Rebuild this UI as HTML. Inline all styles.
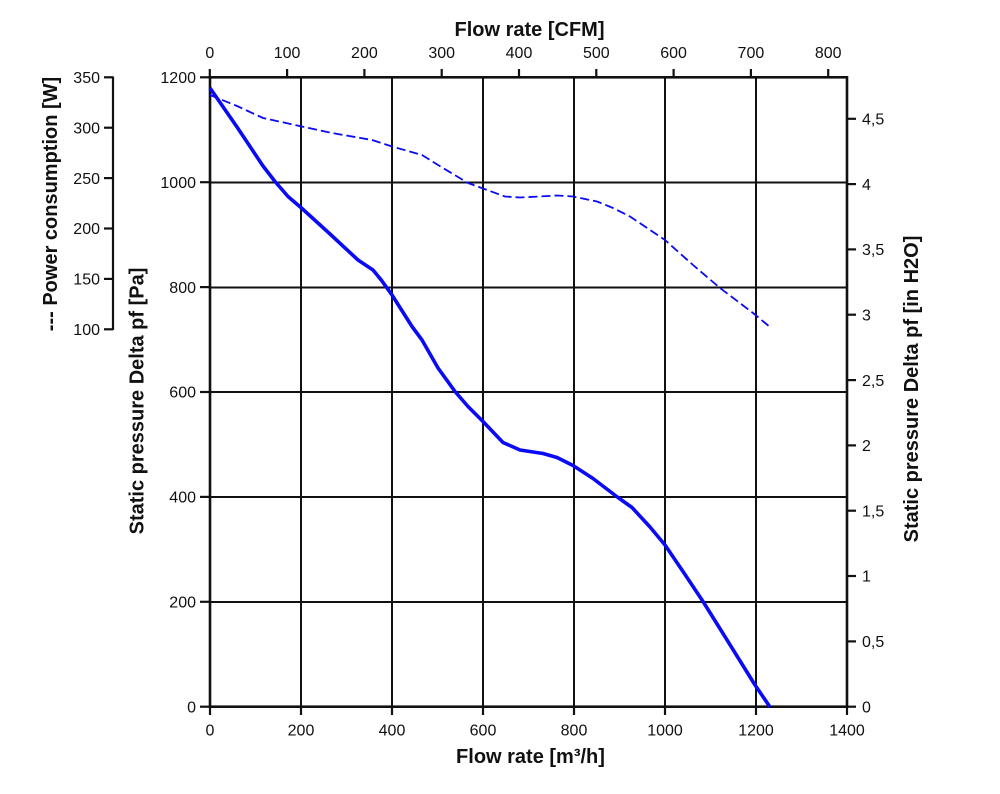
<!DOCTYPE html>
<html>
<head>
<meta charset="utf-8">
<style>
  html,body{margin:0;padding:0;background:#fff;}
  svg{display:block;}
  text{font-family:"Liberation Sans",Arial,sans-serif;fill:#111;}
  .t{font-size:16px;}
  .b{font-size:20px;font-weight:bold;}
</style>
</head>
<body>
<svg width="1000" height="794" viewBox="0 0 1000 794" xmlns="http://www.w3.org/2000/svg">
  <rect x="0" y="0" width="1000" height="794" fill="#fff"/>

  <!-- grid -->
  <g stroke="#111" stroke-width="2">
    <line x1="301" y1="77" x2="301" y2="707"/>
    <line x1="392" y1="77" x2="392" y2="707"/>
    <line x1="483" y1="77" x2="483" y2="707"/>
    <line x1="574" y1="77" x2="574" y2="707"/>
    <line x1="665" y1="77" x2="665" y2="707"/>
    <line x1="756" y1="77" x2="756" y2="707"/>
    <line x1="210" y1="602" x2="847" y2="602"/>
    <line x1="210" y1="497" x2="847" y2="497"/>
    <line x1="210" y1="392" x2="847" y2="392"/>
    <line x1="210" y1="287.5" x2="847" y2="287.5"/>
    <line x1="210" y1="182.5" x2="847" y2="182.5"/>
  </g>

  <!-- frame -->
  <rect x="210" y="77.3" width="637" height="629.4" fill="none" stroke="#111" stroke-width="2.6"/>

  <!-- left ticks -->
  <g stroke="#111" stroke-width="2.2">
    <line x1="200" y1="706.7" x2="210" y2="706.7"/>
    <line x1="200" y1="601.8" x2="210" y2="601.8"/>
    <line x1="200" y1="496.9" x2="210" y2="496.9"/>
    <line x1="200" y1="392" x2="210" y2="392"/>
    <line x1="200" y1="287.1" x2="210" y2="287.1"/>
    <line x1="200" y1="182.2" x2="210" y2="182.2"/>
    <line x1="200" y1="77.3" x2="210" y2="77.3"/>
    <!-- bottom ticks -->
    <line x1="210" y1="707" x2="210" y2="715"/>
    <line x1="301" y1="707" x2="301" y2="715"/>
    <line x1="392" y1="707" x2="392" y2="715"/>
    <line x1="483" y1="707" x2="483" y2="715"/>
    <line x1="574" y1="707" x2="574" y2="715"/>
    <line x1="665" y1="707" x2="665" y2="715"/>
    <line x1="756" y1="707" x2="756" y2="715"/>
    <line x1="847" y1="707" x2="847" y2="715"/>
    <!-- top CFM ticks -->
    <line x1="209.8" y1="69" x2="209.8" y2="77"/>
    <line x1="287.1" y1="69" x2="287.1" y2="77"/>
    <line x1="364.4" y1="69" x2="364.4" y2="77"/>
    <line x1="441.7" y1="69" x2="441.7" y2="77"/>
    <line x1="519" y1="69" x2="519" y2="77"/>
    <line x1="596.3" y1="69" x2="596.3" y2="77"/>
    <line x1="673.6" y1="69" x2="673.6" y2="77"/>
    <line x1="750.9" y1="69" x2="750.9" y2="77"/>
    <line x1="828.2" y1="69" x2="828.2" y2="77"/>
    <!-- right inH2O ticks -->
    <line x1="847" y1="706.7" x2="856" y2="706.7"/>
    <line x1="847" y1="641.4" x2="856" y2="641.4"/>
    <line x1="847" y1="576" x2="856" y2="576"/>
    <line x1="847" y1="510.7" x2="856" y2="510.7"/>
    <line x1="847" y1="445.4" x2="856" y2="445.4"/>
    <line x1="847" y1="380.1" x2="856" y2="380.1"/>
    <line x1="847" y1="314.7" x2="856" y2="314.7"/>
    <line x1="847" y1="249.4" x2="856" y2="249.4"/>
    <line x1="847" y1="184.1" x2="856" y2="184.1"/>
    <line x1="847" y1="118.8" x2="856" y2="118.8"/>
    <!-- power axis -->
    <line x1="113" y1="76.5" x2="113" y2="330"/>
    <line x1="104" y1="77.3" x2="113" y2="77.3"/>
    <line x1="104" y1="127.7" x2="113" y2="127.7"/>
    <line x1="104" y1="178.1" x2="113" y2="178.1"/>
    <line x1="104" y1="228.5" x2="113" y2="228.5"/>
    <line x1="104" y1="278.9" x2="113" y2="278.9"/>
    <line x1="104" y1="329.3" x2="113" y2="329.3"/>
  </g>

  <!-- left tick labels -->
  <g class="t" text-anchor="end">
    <text x="196" y="712.4">0</text>
    <text x="196" y="607.5">200</text>
    <text x="196" y="502.6">400</text>
    <text x="196" y="397.7">600</text>
    <text x="196" y="292.8">800</text>
    <text x="196" y="187.9">1000</text>
    <text x="196" y="83">1200</text>
  </g>
  <!-- power labels -->
  <g class="t" text-anchor="end">
    <text x="100" y="83">350</text>
    <text x="100" y="133.4">300</text>
    <text x="100" y="183.8">250</text>
    <text x="100" y="234.2">200</text>
    <text x="100" y="284.6">150</text>
    <text x="100" y="335">100</text>
  </g>
  <!-- bottom labels -->
  <g class="t" text-anchor="middle">
    <text x="210" y="735.5">0</text>
    <text x="301" y="735.5">200</text>
    <text x="392" y="735.5">400</text>
    <text x="483" y="735.5">600</text>
    <text x="574" y="735.5">800</text>
    <text x="665" y="735.5">1000</text>
    <text x="756" y="735.5">1200</text>
    <text x="847" y="735.5">1400</text>
  </g>
  <!-- top labels -->
  <g class="t" text-anchor="middle">
    <text x="209.8" y="57.8">0</text>
    <text x="287.1" y="57.8">100</text>
    <text x="364.4" y="57.8">200</text>
    <text x="441.7" y="57.8">300</text>
    <text x="519" y="57.8">400</text>
    <text x="596.3" y="57.8">500</text>
    <text x="673.6" y="57.8">600</text>
    <text x="750.9" y="57.8">700</text>
    <text x="828.2" y="57.8">800</text>
  </g>
  <!-- right labels -->
  <g class="t" text-anchor="start">
    <text x="862" y="712.4">0</text>
    <text x="862" y="647.1">0,5</text>
    <text x="862" y="581.7">1</text>
    <text x="862" y="516.4">1,5</text>
    <text x="862" y="451.1">2</text>
    <text x="862" y="385.8">2,5</text>
    <text x="862" y="320.4">3</text>
    <text x="862" y="255.1">3,5</text>
    <text x="862" y="189.8">4</text>
    <text x="862" y="124.5">4,5</text>
  </g>

  <!-- titles -->
  <text class="b" x="529.5" y="36" text-anchor="middle">Flow rate [CFM]</text>
  <text class="b" x="530.5" y="763" text-anchor="middle">Flow rate [m³/h]</text>
  <text class="b" transform="translate(143.5,401) rotate(-90)" text-anchor="middle">Static pressure Delta pf [Pa]</text>
  <text class="b" transform="translate(918,389) rotate(-90)" text-anchor="middle">Static pressure Delta pf [in H2O]</text>
  <text class="b" transform="translate(57,204) rotate(-90)" text-anchor="middle">--- Power consumption [W]</text>

  <!-- power (dashed) -->
  <polyline fill="none" stroke="#0a0af5" stroke-width="1.8" stroke-dasharray="9 4" stroke-linejoin="round"
    points="210,95 237,106 263,118 302,126.5 332,133 372,140 392,146.5 422,155 438,165 468,183 483,188.5 505,196.5 520,197.5 540,196.5 557,195.5 573,196.5 597,201.5 613,208 630,216.5 665,240 693,265 720,288 753,313 770,327"/>

  <!-- pressure (solid) -->
  <polyline fill="none" stroke="#0a0af5" stroke-width="3.6" stroke-linejoin="round" stroke-linecap="butt"
    points="210,88 237,127 263,166 275,181.5 288,196.5 302,208.5 330,234 358,260 373,270 382,281 392,295 412,326.5 422,340 438,368 455,391.5 468,406.5 483,421.5 503,442.5 520,450 543,453.5 557,457.5 573,465.5 593,478.5 618,497.5 632,507.5 650,527 665,545 684,573 703,601.5 723,633.5 755,685 770,707"/>
</svg>
</body>
</html>
